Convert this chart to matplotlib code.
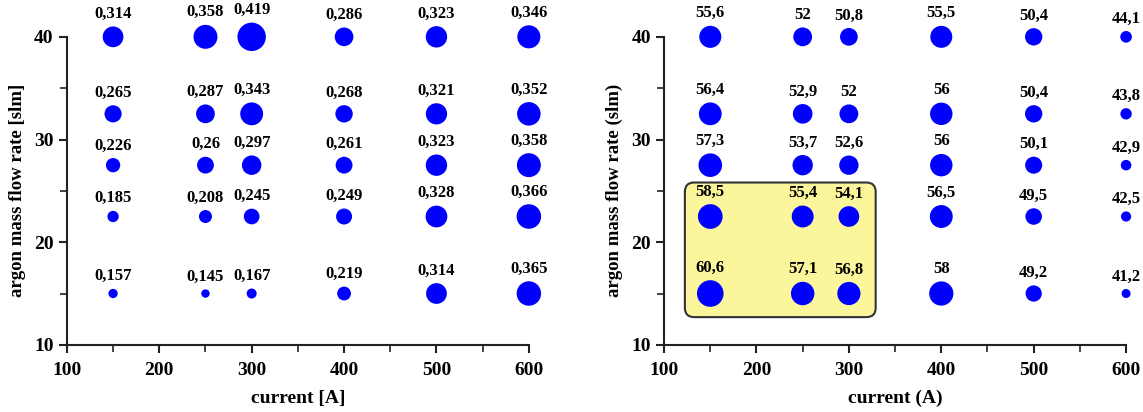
import numpy as np
import matplotlib.pyplot as plt
from matplotlib.patches import FancyBboxPatch

plt.rcParams['font.family'] = ['Liberation Serif', 'DejaVu Serif']
plt.rcParams['font.weight'] = 'bold'

# data
currents = [150, 250, 300, 400, 500, 600]
flows = [15, 22.5, 27.5, 32.5, 40]

# left panel, rows follow flows (15 ... 40)
left_vals = [
    [0.157, 0.145, 0.167, 0.219, 0.314, 0.365],
    [0.185, 0.208, 0.245, 0.249, 0.328, 0.366],
    [0.226, 0.26, 0.297, 0.261, 0.323, 0.358],
    [0.265, 0.287, 0.343, 0.268, 0.321, 0.352],
    [0.314, 0.358, 0.419, 0.286, 0.323, 0.346],
]
# right panel
right_vals = [
    [60.6, 57.1, 56.8, 58, 49.2, 41.2],
    [58.5, 55.4, 54.1, 56.5, 49.5, 42.5],
    [57.3, 53.7, 52.6, 56, 50.1, 42.9],
    [56.4, 52.9, 52, 56, 50.4, 43.8],
    [55.6, 52, 50.8, 55.5, 50.4, 44.1],
]

fig = plt.figure(figsize=(11.43, 4.12), dpi=100)
ax1 = fig.add_axes([0.0585, 0.163, 0.4042, 0.7476])
ax2 = fig.add_axes([0.581, 0.163, 0.4042, 0.7476])

PX = 0.72  # points per pixel at 100 dpi


def bubbles(ax, vals, rmin, rmax):
    v = np.array(vals, dtype=float)
    vmin, vmax = v.min(), v.max()
    X, Y = np.meshgrid(currents, flows)
    r = rmin + (v - vmin) / (vmax - vmin) * (rmax - rmin)  # radius in px
    ax.scatter(X.ravel(), Y.ravel(), s=(2 * r.ravel() * PX) ** 2,
               color='#0000ff', edgecolors='none', zorder=3, clip_on=False)
    for i, fl in enumerate(flows):
        for j, cu in enumerate(currents):
            txt = '{:g}'.format(vals[i][j]).replace('.', ',')
            ax.annotate(txt, (cu, fl), xytext=(0, (r[i, j] + 4.5) * PX),
                        textcoords='offset points', ha='center', va='bottom',
                        fontsize=12, fontweight='bold', zorder=4,
                        annotation_clip=False)


def style(ax, xlabel, ylabel):
    ax.set_xlim(100, 600)
    ax.set_ylim(10, 40)
    ax.set_xticks([100, 200, 300, 400, 500, 600])
    ax.set_xticks([150, 250, 350, 450, 550], minor=True)
    ax.set_yticks([10, 20, 30, 40])
    ax.set_yticks([15, 25, 35], minor=True)
    for s in ['top', 'right']:
        ax.spines[s].set_visible(False)
    for s in ['left', 'bottom']:
        ax.spines[s].set_linewidth(1.5)
        ax.spines[s].set_color('#222222')
    ax.tick_params(which='major', length=6, width=1.5, labelsize=14, color='#222222')
    ax.tick_params(axis='x', which='major', pad=6)
    ax.tick_params(which='minor', length=5, width=1.2, color='#222222')
    ax.set_xlabel(xlabel, fontsize=14, fontweight='bold', labelpad=8)
    ax.set_ylabel(ylabel, fontsize=13.5, fontweight='bold', labelpad=6)


bubbles(ax1, left_vals, 4.2, 14.2)
style(ax1, 'current [A]', 'argon mass flow rate [slm]')

box = FancyBboxPatch((0.045, 0.09), 0.413, 0.437, transform=ax2.transAxes,
                     boxstyle='round,pad=0,rounding_size=0.02', mutation_aspect=1.5,
                     facecolor='#fbf59c', edgecolor='#333333', linewidth=1.5, zorder=1)
ax2.add_patch(box)
bubbles(ax2, right_vals, 4.5, 13.3)
style(ax2, 'current (A)', 'argon mass flow rate (slm)')

fig.savefig('out.png', dpi=100)
